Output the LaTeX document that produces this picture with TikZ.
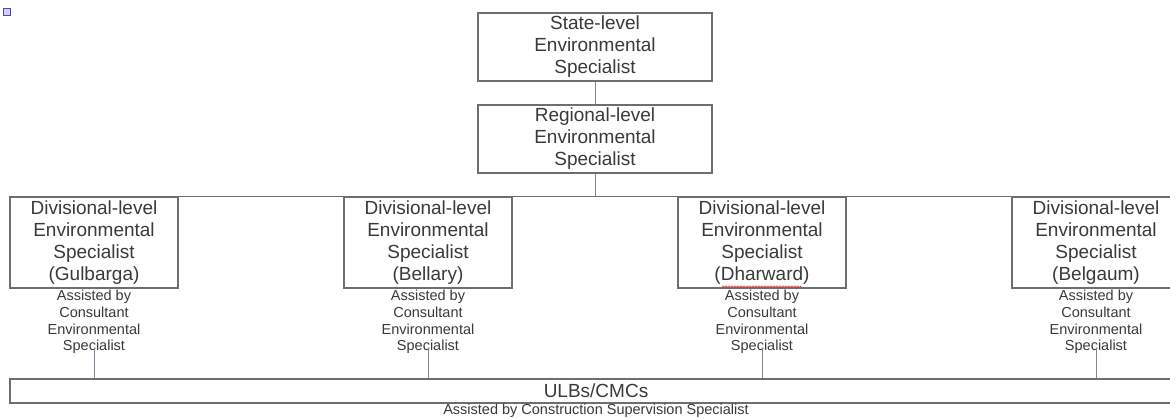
\documentclass[tikz,border=0pt]{standalone}
\usepackage{fontspec}
\setmainfont{Liberation Sans}
\usetikzlibrary{decorations.pathmorphing}
\definecolor{boxline}{HTML}{6E6E6E}
\definecolor{txt}{HTML}{3A3A3A}
\definecolor{conn}{HTML}{7A8794}
\newcommand\bigfnt{\fontsize{19}{22}\selectfont}
\newcommand\smallfnt{\fontsize{14.5}{16.7}\selectfont}
\tikzset{
  box/.style={draw=boxline, line width=1.1pt, inner sep=0pt, align=center, text=txt, font=\bigfnt},
  divbox/.style={box, minimum width=168pt, minimum height=91pt},
  topbox/.style={box, minimum width=234pt, minimum height=68pt},
  note/.style={inner sep=0pt, align=center, text=txt, font=\smallfnt},
  conn/.style={draw=conn, line width=1pt},
  hline/.style={draw=boxline, line width=1.1pt}
}
\begin{document}
\begin{tikzpicture}[x=1pt,y=-1pt]
\useasboundingbox (0,0) rectangle (1170,419);
\clip (0,0) rectangle (1170,419);
\fill[white] (0,0) rectangle (1170,419);
% small icon
\draw[draw=blue!45!gray, fill=blue!18, line width=0.6pt] (3.5,8.5) rectangle (10,15);

\node[topbox] (state) at (595,47) {State-level\\Environmental\\Specialist};
\node[topbox] (reg) at (595,139) {Regional-level\\Environmental\\Specialist};

\node[divbox] (d1) at (94,242.5) {Divisional-level\\Environmental\\Specialist\\(Gulbarga)};
\node[divbox] (d2) at (428,242.5) {Divisional-level\\Environmental\\Specialist\\(Bellary)};
\node[divbox] (d3) at (762,242.5) {Divisional-level\\Environmental\\Specialist\\(Dharward)};
\node[divbox] (d4) at (1096,242.5) {Divisional-level\\Environmental\\Specialist\\(Belgaum)};

\foreach \i/\x in {1/94,2/428,3/762,4/1096}{
  \node[note] (n\i) at (\x,322) {Assisted by\\Consultant\\Environmental\\Specialist};
}

\node[box, minimum width=1172pt, minimum height=24pt] (ulb) at (596,391) {ULBs/CMCs};
\node[note] (cap) at (596,411) {Assisted by Construction Supervision Specialist};

% connectors
\draw[conn] (state.south) -- (reg.north);
\draw[conn] (reg.south) -- (reg.south |- d1.north);
\draw[hline] (d1.north west) -- (d4.north east);
\foreach \i in {1,2,3,4}{
  \draw[conn] ([yshift=6pt]n\i.south) -- (n\i.south |- ulb.north);
}

% spell-check squiggle
\draw[red!85, line width=0.6pt, decorate, decoration={snake, amplitude=0.7pt, segment length=3pt}] (722,286.5) -- (801,286.5);
\end{tikzpicture}
\end{document}
